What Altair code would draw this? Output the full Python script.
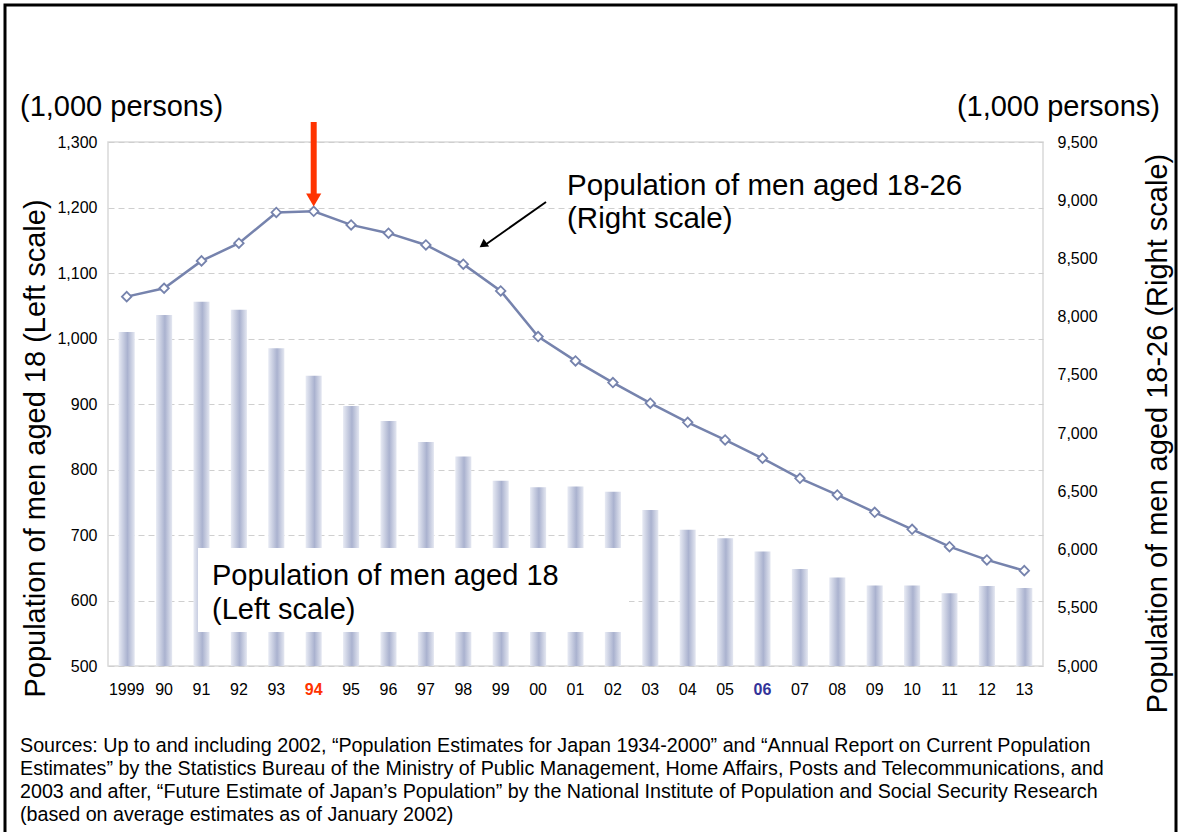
import altair as alt
import pandas as pd

years = ["1999", "90", "91", "92", "93", "94", "95", "96", "97", "98", "99", "00",
         "01", "02", "03", "04", "05", "06", "07", "08", "09", "10", "11", "12", "13"]
men18 = [1010, 1036, 1056, 1044, 985, 943, 897, 874, 842, 820, 783, 773,
         774, 766, 738, 708, 695, 675, 648, 635, 623, 623, 611, 622, 619]
men18_26 = [8172, 8244, 8479, 8631, 8895, 8905, 8788, 8717, 8616, 8451, 8221, 7829,
            7620, 7434, 7257, 7093, 6941, 6784, 6612, 6469, 6320, 6174, 6025, 5911, 5819]
left_ticks = [500, 600, 700, 800, 900, 1000, 1100, 1200, 1300]
right_ticks = [5000, 5500, 6000, 6500, 7000, 7500, 8000, 8500, 9000, 9500]

unit_label = "(1,000 persons)"
left_title = "Population of men aged 18 (Left scale)"
right_title = "Population of men aged 18-26 (Right scale)"
line_note = ["Population of men aged 18-26", "(Right scale)"]
bar_note = ["Population of men aged 18", "(Left scale)"]
sources = [
    "Sources: Up to and including 2002, \u201cPopulation Estimates for Japan 1934-2000\u201d and \u201cAnnual Report on Current Population",
    "Estimates\u201d by the Statistics Bureau of the Ministry of Public Management, Home Affairs, Posts and Telecommunications, and",
    "2003 and after, \u201cFuture Estimate of Japan\u2019s Population\u201d by the National Institute of Population and Social Security Research",
    "(based on average estimates as of January 2002)",
]

FONT = "Liberation Sans"
df = pd.DataFrame({"year": years, "men18": men18, "men18_26": men18_26})
one = pd.DataFrame({"a": [0]})

x_enc = alt.X(
    "year:N", sort=years,
    scale=alt.Scale(paddingInner=0.57, paddingOuter=0.285),
    axis=alt.Axis(
        title=None, labelAngle=0, labelFont=FONT, labelFontSize=16, labelPadding=15,
        domain=False, ticks=False, grid=False,
        labelColor={"condition": [{"test": "datum.value === '94'", "value": "#ff3300"},
                                  {"test": "datum.value === '06'", "value": "#333399"}],
                    "value": "black"},
        labelFontWeight={"condition": {"test": "datum.value === '94' || datum.value === '06'",
                                       "value": "bold"},
                         "value": "normal"},
    ),
)

bar_grad = alt.Gradient(
    gradient="linear", x1=0, x2=1, y1=0, y2=0,
    stops=[alt.GradientStop(color="#e8ebf4", offset=0),
           alt.GradientStop(color="#aab2cf", offset=0.55),
           alt.GradientStop(color="#e4e7f1", offset=1)],
)

bars = alt.Chart(df).mark_bar(color=bar_grad).encode(
    x=x_enc,
    y=alt.Y("men18:Q", scale=alt.Scale(domain=[500, 1300], zero=False, nice=False),
            axis=alt.Axis(values=left_ticks, format=",d", title=left_title,
                          titleFont=FONT, titleFontSize=29, titleFontWeight="normal",
                          titleAngle=270, titleX=-73, titleY=306, titleAlign="center",
                          titleBaseline="middle", labelFont=FONT, labelFontSize=16,
                          labelPadding=11, domain=False, ticks=False,
                          grid=True, gridDash=[6, 4], gridColor="#cfcfcf", gridWidth=1.2)),
    y2=alt.datum(500),
)

line = alt.Chart(df).mark_line(
    color="#7683ad", strokeWidth=2.5,
    point=alt.OverlayMarkDef(shape="diamond", filled=False, fill="white",
                             stroke="#7683ad", strokeWidth=1.8, size=90),
).encode(
    x=alt.X("year:N", sort=years),
    y=alt.Y("men18_26:Q", scale=alt.Scale(domain=[5000, 9500], zero=False, nice=False),
            axis=alt.Axis(orient="right", values=right_ticks, format=",d", title=right_title,
                          titleFont=FONT, titleFontSize=29, titleFontWeight="normal",
                          titleAngle=270, titleX=114, titleY=291, titleAlign="center",
                          titleBaseline="middle", labelFont=FONT, labelFontSize=16,
                          labelPadding=14, domain=False, ticks=False, grid=False)),
)

box = alt.Chart(one).mark_rect(color="white").encode(
    x=alt.value(90), x2=alt.value(521), y=alt.value(406), y2=alt.value(490))
box_text = alt.Chart(one).mark_text(
    align="left", baseline="alphabetic", font=FONT, fontSize=29, lineHeight=34, color="black"
).encode(x=alt.value(104), y=alt.value(443), text=alt.value(bar_note))

line_text = alt.Chart(one).mark_text(
    align="left", baseline="alphabetic", font=FONT, fontSize=29.5, lineHeight=33, color="black"
).encode(x=alt.value(459), y=alt.value(53), text=alt.value(line_note))

red_stem = alt.Chart(one).mark_rule(color="#ff3300", strokeWidth=6).encode(
    x=alt.datum("94"), y=alt.value(-20), y2=alt.value(52))
red_head = alt.Chart(one).mark_point(shape="triangle-down", filled=True, color="#ff3300",
                                     size=230, opacity=1).encode(
    x=alt.datum("94"), y=alt.value(58))

blk_stem = alt.Chart(one).mark_rule(color="black", strokeWidth=2).encode(
    x=alt.value(438), y=alt.value(60), x2=alt.value(377), y2=alt.value(103))
blk_head = alt.Chart(one).mark_point(shape="triangle-up", filled=True, color="black",
                                     size=90, angle=235, opacity=1).encode(
    x=alt.value(375), y=alt.value(103))

unit_l = alt.Chart(one).mark_text(align="left", baseline="alphabetic", font=FONT,
                                  fontSize=29, color="black").encode(
    x=alt.value(-88), y=alt.value(-26), text=alt.value(unit_label))
unit_r = alt.Chart(one).mark_text(align="right", baseline="alphabetic", font=FONT,
                                  fontSize=29, color="black").encode(
    x=alt.value(1052), y=alt.value(-26), text=alt.value(unit_label))

foot = alt.Chart(one).mark_text(align="left", baseline="alphabetic", font=FONT,
                                fontSize=19.7, lineHeight=23, color="black").encode(
    x=alt.value(-88), y=alt.value(610), text=alt.value(sources))

frame = alt.Chart(one).mark_rect(fillOpacity=0, stroke="black", strokeWidth=3).encode(
    x=alt.value(-103), x2=alt.value(1068), y=alt.value(-137), y2=alt.value(700))

chart = alt.layer(
    bars, line, box, box_text, line_text, red_stem, red_head, blk_stem, blk_head,
    unit_l, unit_r, foot, frame
).resolve_scale(y="independent").properties(
    width=935, height=524,
    padding={"left": 108, "top": 142, "right": 135, "bottom": 166},
    autosize=alt.AutoSizeParams(type="none"),
    background="white",
).configure_view(stroke="#d9d9d9", strokeWidth=1.5)

chart.save("out.html", embed_options={"renderer": "svg", "actions": False})
